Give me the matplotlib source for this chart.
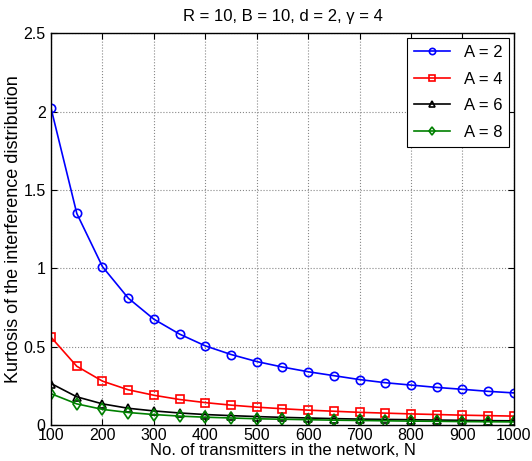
import numpy as np
import matplotlib
matplotlib.use("Agg")
import matplotlib.pyplot as plt

plt.rcParams['font.family'] = ['Liberation Sans', 'DejaVu Sans']
plt.rcParams['font.size'] = 12

# данные
N = [100, 150, 200, 250, 300, 350, 400, 450, 500, 550,
     600, 650, 700, 750, 800, 850, 900, 950, 1000]
k_a2 = [2.02, 1.35, 1.01, 0.81, 0.675, 0.58, 0.505, 0.45, 0.405, 0.37,
        0.34, 0.315, 0.29, 0.27, 0.255, 0.24, 0.228, 0.215, 0.205]
k_a4 = [0.56, 0.375, 0.28, 0.225, 0.19, 0.163, 0.143, 0.127, 0.114, 0.104,
        0.095, 0.088, 0.081, 0.076, 0.071, 0.067, 0.063, 0.06, 0.057]
k_a6 = [0.265, 0.18, 0.135, 0.107, 0.09, 0.077, 0.067, 0.06, 0.054, 0.049,
        0.045, 0.041, 0.038, 0.036, 0.034, 0.032, 0.03, 0.028, 0.027]
k_a8 = [0.2, 0.135, 0.1, 0.08, 0.067, 0.057, 0.05, 0.045, 0.04, 0.037,
        0.034, 0.031, 0.029, 0.027, 0.025, 0.024, 0.022, 0.021, 0.02]

fig = plt.figure(figsize=(5.32, 4.61), dpi=100)
ax = fig.add_axes([0.096, 0.078, 0.870, 0.850])

ax.plot(N, k_a2, '-o', color='blue', mfc='none', ms=6, mew=1.2, lw=1.2, label='A = 2')
ax.plot(N, k_a4, '-s', color='red', mfc='none', ms=5.5, mew=1.2, lw=1.2, label='A = 4')
ax.plot(N, k_a6, '-^', color='black', mfc='none', ms=6, mew=1.2, lw=1.2, label='A = 6')
ax.plot(N, k_a8, '-d', color='green', mfc='none', ms=6, mew=1.2, lw=1.2, label='A = 8')

ax.set_xlim(100, 1000)
ax.set_ylim(0, 2.5)
ax.set_xticks(np.arange(100, 1001, 100))
ax.set_yticks([0, 0.5, 1, 1.5, 2, 2.5])
ax.set_yticklabels(['0', '0.5', '1', '1.5', '2', '2.5'])
ax.tick_params(direction='in', top=True, right=True, length=4, labelsize=11.5)
ax.tick_params(axis='x', pad=2)
ax.tick_params(axis='y', pad=4)
ax.grid(True, linestyle=':', color='#888888', lw=0.8)
for s in ax.spines.values():
    s.set_linewidth(1.0)

ax.set_title('R = 10, B = 10, d = 2, \u03b3 = 4', fontsize=12, pad=9)
ax.set_xlabel('No. of transmitters in the network, N', labelpad=0)
ax.set_ylabel('Kurtosis of the interference distribution', fontsize=13, labelpad=1)

leg = ax.legend(loc='upper right', fancybox=False, edgecolor='black',
                framealpha=1, handlelength=2.2, borderaxespad=0.3,
                labelspacing=0.7, markerscale=0.75)
leg.get_frame().set_linewidth(0.8)

fig.savefig('out.png', dpi=100)
